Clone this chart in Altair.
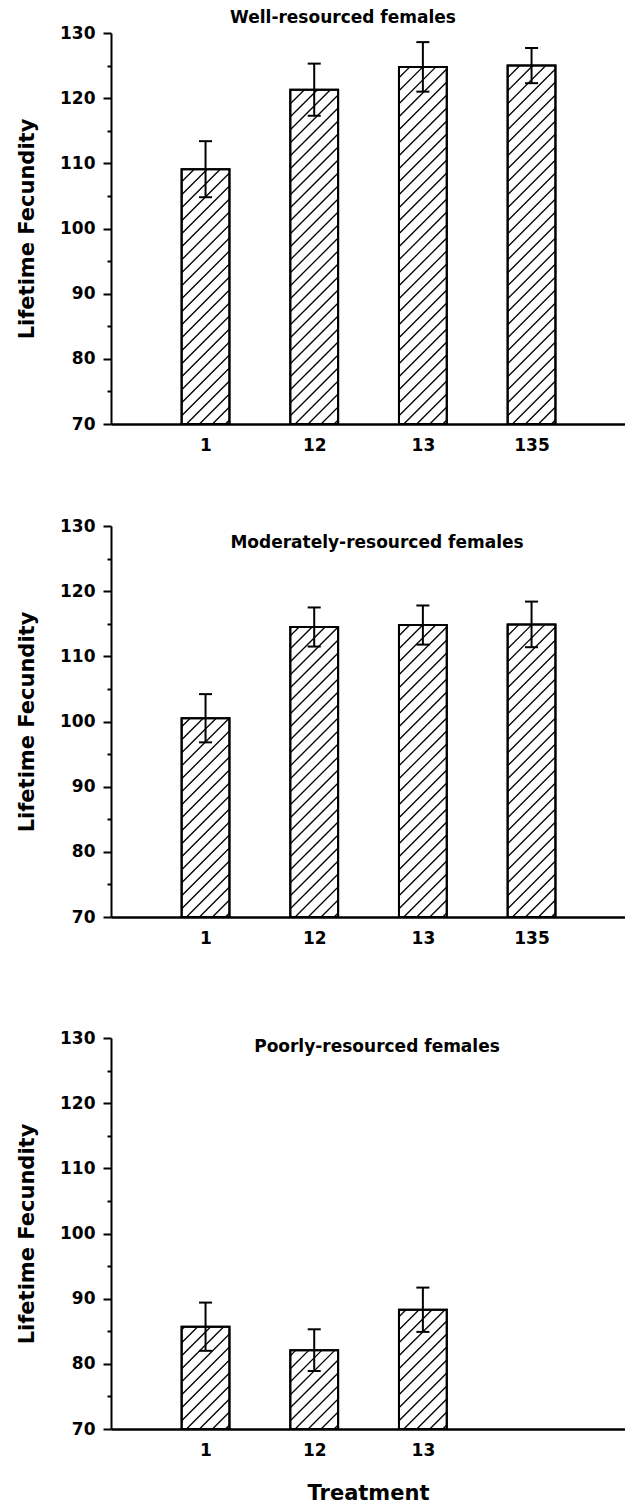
import json
import altair as alt
import pandas as pd
import numpy as np

# ---------------- data ----------------
treat_well = ["1", "12", "13", "135"]
mean_well = [109.1, 121.3, 124.8, 125.0]
err_well = [4.3, 4.0, 3.8, 2.7]

treat_mod = ["1", "12", "13", "135"]
mean_mod = [100.5, 114.5, 114.8, 114.9]
err_mod = [3.7, 3.0, 3.0, 3.5]

treat_poor = ["1", "12", "13"]
mean_poor = [85.7, 82.1, 88.3]
err_poor = [3.7, 3.2, 3.4]

titles = ["Well-resourced females", "Moderately-resourced females", "Poorly-resourced females"]
y_ticks = list(range(70, 131, 5))

# ---------------- layout constants ----------------
W, H = 514, 391
XDOM = [-0.87, 3.86]
YDOM = [70, 130]
HALF = 0.22      # half bar width in slot units
CAP = 0.06       # half cap width
SX = W / (XDOM[1] - XDOM[0])
SY = H / (YDOM[1] - YDOM[0])
HATCH = 13       # vertical spacing of hatch lines (px)
FONT = "DejaVu Sans"


def hatch_df(pos, means):
    rows = []
    for c, v in zip(pos, means):
        xl = c - HALF
        w = 2 * HALF * SX
        h = (v - YDOM[0]) * SY
        b = -w + 4
        while b < h:
            u0 = max(0.0, -b)
            u1 = min(w, h - b)
            if u1 - u0 > 0.5:
                rows.append({
                    "x": xl + u0 / SX, "x2": xl + u1 / SX,
                    "y": YDOM[0] + (u0 + b) / SY, "y2": YDOM[0] + (u1 + b) / SY,
                })
            b += HATCH
    return pd.DataFrame(rows)


def panel(treats, means, errs, title, tx, ty, xtitle):
    pos = list(range(len(treats)))
    df = pd.DataFrame({
        "treat": treats, "pos": pos, "mean": means, "err": errs,
    })
    df["xl"] = df["pos"] - HALF
    df["xr"] = df["pos"] + HALF
    df["base"] = YDOM[0]
    df["lo"] = df["mean"] - df["err"]
    df["hi"] = df["mean"] + df["err"]
    caps = pd.concat([
        pd.DataFrame({"cl": df["pos"] - CAP, "cr": df["pos"] + CAP, "cy": df["hi"]}),
        pd.DataFrame({"cl": df["pos"] - CAP, "cr": df["pos"] + CAP, "cy": df["lo"]}),
    ])
    hatch = hatch_df(pos, means)

    xaxis = alt.Axis(
        values=pos,
        labelExpr=json.dumps(treats) + "[datum.value]",
        ticks=False, grid=False, domainWidth=2.5,
        labelPadding=13, title=xtitle, titlePadding=24, titleFontSize=21,
    )
    yaxis = alt.Axis(
        values=y_ticks,
        labelExpr="datum.value % 10 === 0 ? datum.label : ''",
        tickSize={"condition": {"test": "datum.value % 10 === 0", "value": 8}, "value": 4},
        grid=False, domainWidth=2, labelPadding=8,
        title="Lifetime Fecundity", titleFontSize=21, titlePadding=22,
    )
    xs = alt.Scale(domain=XDOM, nice=False, zero=False)
    ys = alt.Scale(domain=YDOM, nice=False, zero=False)

    def X(f):
        return alt.X(f, type="quantitative", scale=xs, axis=xaxis)

    def Y(f):
        return alt.Y(f, type="quantitative", scale=ys, axis=yaxis)

    bars = alt.Chart(df).mark_rect(fill="white", stroke="black", strokeWidth=2).encode(
        x=X("xl"), x2="xr", y=Y("base"), y2="mean")
    hat = alt.Chart(hatch).mark_rule(color="black", strokeWidth=1.3).encode(
        x=X("x"), x2="x2", y=Y("y"), y2="y2")
    outline = alt.Chart(df).mark_rect(fillOpacity=0, stroke="black", strokeWidth=2).encode(
        x=X("xl"), x2="xr", y=Y("base"), y2="mean")
    ebar = alt.Chart(df).mark_rule(color="black", strokeWidth=2).encode(
        x=X("pos"), y=Y("lo"), y2="hi")
    ecap = alt.Chart(caps).mark_rule(color="black", strokeWidth=2).encode(
        x=X("cl"), x2="cr", y=Y("cy"))
    ttl = alt.Chart(pd.DataFrame({"t": [title]})).mark_text(
        font=FONT, fontSize=17, fontWeight="bold", align="center", baseline="middle", color="black"
    ).encode(text="t:N", x=alt.value(tx), y=alt.value(ty))
    return alt.layer(bars, hat, outline, ebar, ecap, ttl).properties(width=W, height=H)


p1 = panel(treat_well, mean_well, err_well, titles[0], 232, -15, None)
p2 = panel(treat_mod, mean_mod, err_mod, titles[1], 266, 17, None)
p3 = panel(treat_poor, mean_poor, err_poor, titles[2], 266, 9, "Treatment")

inner = alt.vconcat(p1, p2, spacing=64)
chart = alt.vconcat(inner, p3, spacing=83).properties(
    padding={"left": 16, "top": 9, "right": 0, "bottom": 0}
).configure_view(strokeWidth=0).configure_axis(
    labelFont=FONT, labelFontSize=17, labelFontWeight="bold", labelColor="black",
    titleFont=FONT, titleFontWeight="bold", titleColor="black",
    domainColor="black", tickColor="black", tickWidth=2,
)

chart.save("out.html", embed_options={"renderer": "svg", "actions": False})
